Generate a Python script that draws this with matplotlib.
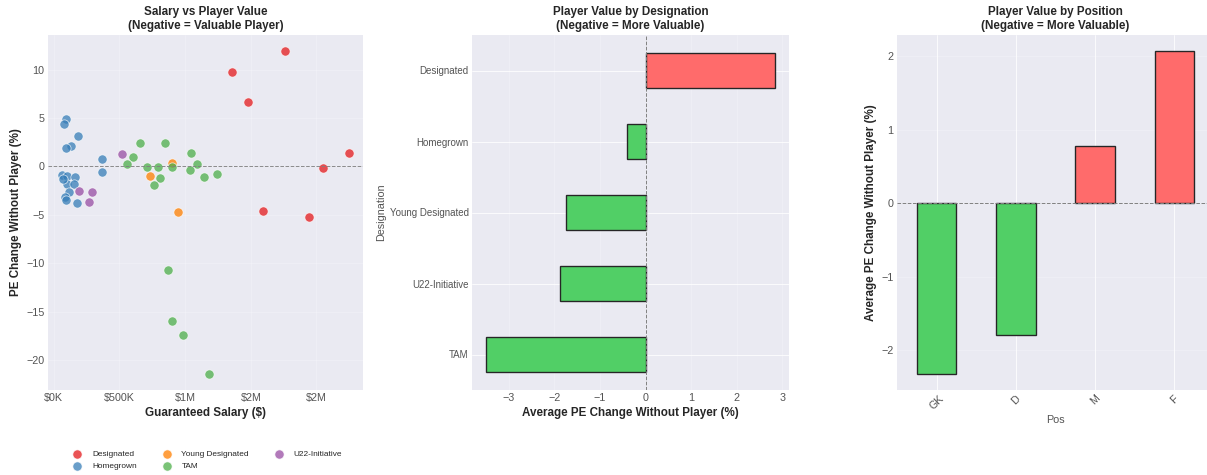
import numpy as np
import matplotlib
matplotlib.use("Agg")
import matplotlib.pyplot as plt
from matplotlib.ticker import FuncFormatter

plt.style.use("seaborn-v0_8-darkgrid")
plt.rcParams["font.family"] = ["Liberation Sans", "DejaVu Sans"]

# Podatki razpršenega grafa: plača (v $) in sprememba PE brez igralca (%)
designated_salary = [1.358e6, 1.763e6, 1.48e6, 2.245e6, 2.05e6, 1.59e6, 1.945e6]
designated_pe = [9.76, 11.9, 6.67, 1.34, -0.2, -4.6, -5.2]

homegrown_salary = [0.093e6, 0.081e6, 0.184e6, 0.129e6, 0.093e6, 0.366e6, 0.366e6,
                    0.066e6, 0.104e6, 0.164e6, 0.098e6, 0.154e6, 0.114e6, 0.086e6,
                    0.096e6, 0.177e6, 0.073e6]
homegrown_pe = [4.9, 4.4, 3.12, 2.1, 1.86, 0.82, -0.52,
                -0.9, -1.0, -1.13, -1.78, -1.86, -2.6, -3.2,
                -3.47, -3.78, -1.34]

young_salary = [0.904e6, 0.73e6, 0.95e6]
young_pe = [0.38, -1.0, -4.67]

tam_salary = [0.657e6, 0.846e6, 0.604e6, 0.558e6, 0.712e6, 0.795e6, 0.90e6,
              0.813e6, 0.765e6, 1.043e6, 1.093e6, 1.038e6, 1.144e6, 1.24e6,
              0.871e6, 0.90e6, 0.987e6, 1.184e6]
tam_pe = [2.44, 2.44, 0.93, 0.28, -0.03, -0.07, -0.03,
          -1.17, -1.93, 1.37, 0.28, -0.38, -1.06, -0.82,
          -10.7, -15.95, -17.4, -21.4]

u22_salary = [0.523e6, 0.19e6, 0.29e6, 0.267e6]
u22_pe = [1.3, -2.58, -2.65, -3.64]

# Povprečja po oznaki in po poziciji
designations = ["TAM", "U22-Initiative", "Young Designated", "Homegrown", "Designated"]
designation_avg = [-3.49, -1.88, -1.75, -0.41, 2.83]

positions = ["GK", "D", "M", "F"]
position_avg = [-2.32, -1.79, 0.78, 2.07]

W, H, DPI = 1207, 475, 70
fig = plt.figure(figsize=(W / DPI, H / DPI), dpi=DPI)

def rect(x0, x1, y_top=35, y_bot=390):
    return [x0 / W, (H - y_bot) / H, (x1 - x0) / W, (y_bot - y_top) / H]

ax1 = fig.add_axes(rect(48, 363))
ax2 = fig.add_axes(rect(472, 789))
ax3 = fig.add_axes(rect(897, 1214))

TICK_COL = "0.33"

# Levo: plača proti vrednosti igralca
groups = [
    ("Designated", designated_salary, designated_pe, "#e41a1c"),
    ("Homegrown", homegrown_salary, homegrown_pe, "#377eb8"),
    ("Young Designated", young_salary, young_pe, "#ff7f00"),
    ("TAM", tam_salary, tam_pe, "#4daf4a"),
    ("U22-Initiative", u22_salary, u22_pe, "#984ea3"),
]
for name, xs, ys, col in groups:
    ax1.scatter(xs, ys, s=90, color=col, alpha=0.75, edgecolor="white",
                linewidth=0.8, label=name)
ax1.axhline(0, color="gray", linestyle="--", linewidth=1, alpha=0.9)
ax1.xaxis.set_major_formatter(FuncFormatter(
    lambda x, p: f"${x / 1e6:.0f}M" if x >= 1e6 else f"${x / 1e3:.0f}K"))
ax1.set_xlabel("Guaranteed Salary ($)", fontsize=12, fontweight="bold")
ax1.set_ylabel("PE Change Without Player (%)", fontsize=12, fontweight="bold")
ax1.set_title("Salary vs Player Value\n(Negative = Valuable Player)",
              fontsize=12, fontweight="bold")
ax1.grid(True, alpha=0.3)
ax1.tick_params(labelsize=11, labelcolor=TICK_COL)
ax1.legend(loc="upper center", bbox_to_anchor=(0.5, -0.15), ncol=3,
           fontsize=8.5, frameon=False, columnspacing=2.6)

# Sredina: povprečje po oznaki
cols2 = ["#ff6b6b" if v > 0 else "#51cf66" for v in designation_avg]
ax2.barh(np.arange(len(designations)), designation_avg, height=0.5,
         color=cols2, edgecolor="0.15", linewidth=1.4)
ax2.set_yticks(np.arange(len(designations)))
ax2.set_yticklabels(designations)
ax2.set_ylim(-0.5, len(designations) - 0.5)
ax2.axvline(0, color="gray", linestyle="--", linewidth=1)
ax2.set_xlabel("Average PE Change Without Player (%)", fontsize=12, fontweight="bold")
ax2.set_ylabel("Designation", fontsize=11, color=TICK_COL)
ax2.set_title("Player Value by Designation\n(Negative = More Valuable)",
              fontsize=12, fontweight="bold")
ax2.grid(axis="x", alpha=0.3)
ax2.tick_params(axis="x", labelsize=11, labelcolor=TICK_COL)
ax2.tick_params(axis="y", labelsize=10, labelcolor=TICK_COL)

# Desno: povprečje po poziciji
cols3 = ["#ff6b6b" if v > 0 else "#51cf66" for v in position_avg]
ax3.bar(np.arange(len(positions)), position_avg, width=0.5,
        color=cols3, edgecolor="0.15", linewidth=1.4)
ax3.set_xticks(np.arange(len(positions)))
ax3.set_xticklabels(positions, rotation=45)
ax3.set_xlim(-0.5, len(positions) - 0.5)
ax3.axhline(0, color="gray", linestyle="--", linewidth=1)
ax3.set_xlabel("Pos", fontsize=11, color=TICK_COL)
ax3.set_ylabel("Average PE Change Without Player (%)", fontsize=12, fontweight="bold")
ax3.set_title("Player Value by Position\n(Negative = More Valuable)",
              fontsize=12, fontweight="bold")
ax3.grid(axis="y", alpha=0.3)
ax3.tick_params(labelsize=11, labelcolor=TICK_COL)

fig.savefig("out.png", dpi=DPI)
